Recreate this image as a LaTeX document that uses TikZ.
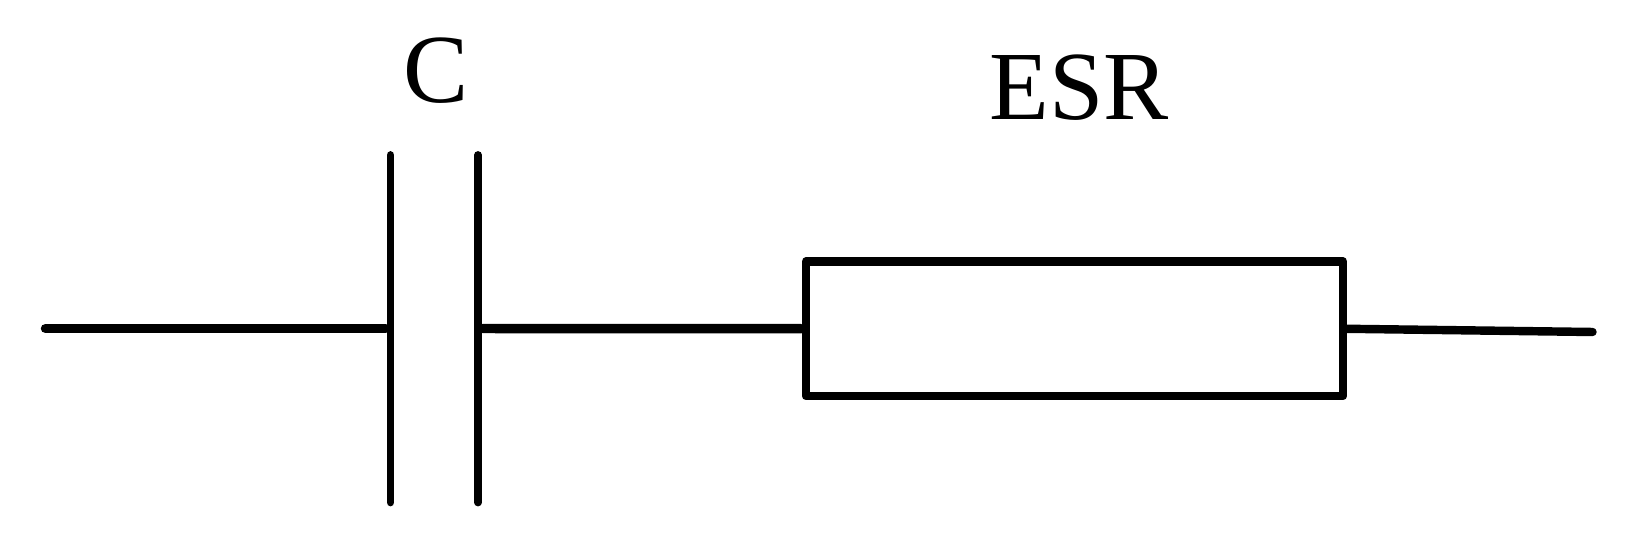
\documentclass[tikz,border=0pt]{standalone}
\usepackage{fontspec}
\setmainfont{Liberation Serif}
\tikzset{
  wire/.style={line width=2.7pt, line cap=round},
  plate/.style={line width=2.2pt, line cap=round},
  label/.style={rectangle, draw=none, inner sep=0pt, anchor=base, font=\fontsize{27.8}{30}\selectfont},
}
\begin{document}
\begin{tikzpicture}
\useasboundingbox (0,0) rectangle (16.37,5.46);
%%%%%%%%%%%%%%%%%%%%%%%%%%%%%%% Capacitor plates
\coordinate (cLeftTop) at (3.905,3.91);
\coordinate (cLeftMid) at (3.905,2.175);
\coordinate (cLeftBot) at (3.905,0.435);
\coordinate (cRightTop) at (4.78,3.91);
\coordinate (cRightMid) at (4.78,2.175);
\coordinate (cRightBot) at (4.78,0.435);
\draw[plate] (cLeftTop) -- (cLeftBot);
\draw[plate] (cRightTop) -- (cRightBot);

%%%%%%%%%%%%%%%%%%%%%%%%%%%%%%% Series resistance
\node[rectangle, draw, line width=2.5pt, line join=round, outer sep=0pt, minimum width=5.37cm, minimum height=1.345cm](rEsr) at (10.745,2.1725){};

\node[label](lblC) at (4.365,4.43){C};
\node[label](lblEsr) at (10.79,4.265){ESR};

%%%%%%%%%%%%%%%%%%%%%%%%%%%%%%% Leads
\coordinate (leadIn) at (0.455,2.175);
\coordinate (leadOut) at (15.925,2.14);
\draw[wire, shorten >=1.4pt] (leadIn) -- (cLeftMid);
\draw[wire, shorten <=1.4pt, shorten >=1.4pt] (cRightMid) -- (rEsr.west);
\draw[wire, line width=2.4pt, shorten <=1.2pt] (rEsr.east) -- (leadOut);

\end{tikzpicture}
\end{document}
